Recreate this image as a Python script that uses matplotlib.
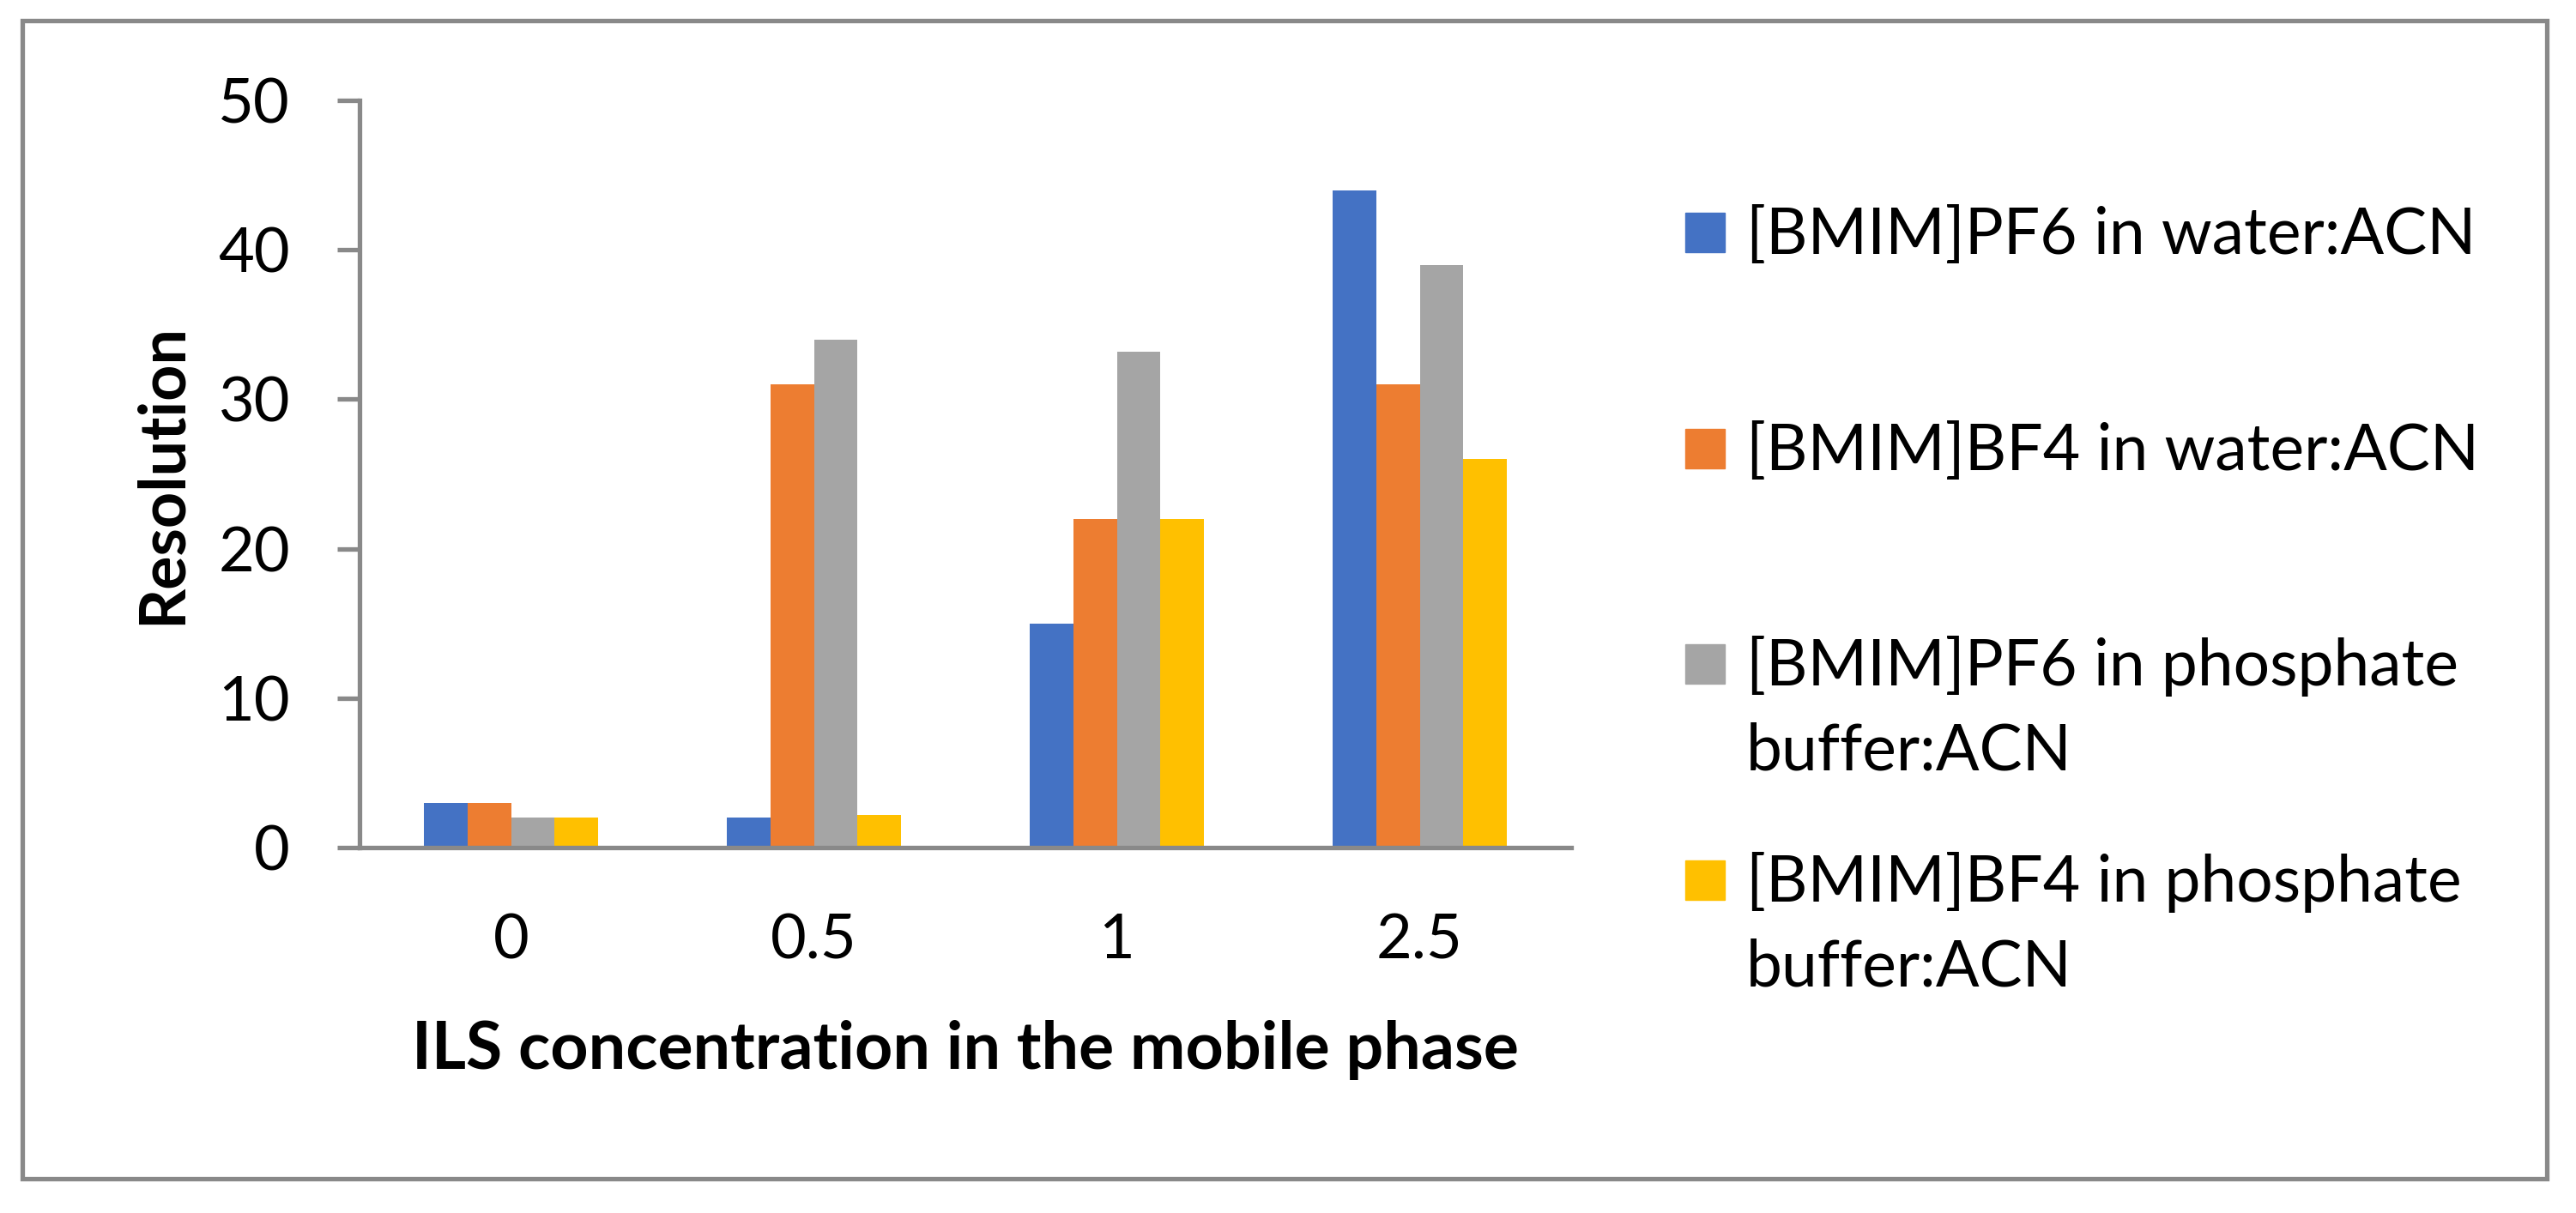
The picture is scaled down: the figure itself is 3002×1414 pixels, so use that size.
import numpy as np
import matplotlib
matplotlib.use("Agg")
import matplotlib.pyplot as plt
from matplotlib.patches import Rectangle

# values
concentrations = ["0", "0.5", "1", "2.5"]
series_labels = [
    "[BMIM]PF6 in water:ACN",
    "[BMIM]BF4 in water:ACN",
    "[BMIM]PF6 in phosphate\nbuffer:ACN",
    "[BMIM]BF4 in phosphate\nbuffer:ACN",
]
pf6_water = [3, 2, 15, 44]
bf4_water = [3, 31, 22, 31]
pf6_phosphate = [2, 34, 33.2, 39]
bf4_phosphate = [2, 2.2, 22, 26]
colors = ["#4472C4", "#ED7D31", "#A5A5A5", "#FFC000"]
grey = "#898989"

plt.rcParams["font.family"] = ["Lato", "DejaVu Sans"]

W, H = 3002, 1414
fig = plt.figure(figsize=(W / 100, H / 100), dpi=100)
ax = fig.add_axes([419 / W, 1 - 988 / H, (1831 - 419) / W, (988 - 117) / H])

x = np.arange(len(concentrations))
bw = 0.1436
all_series = [pf6_water, bf4_water, pf6_phosphate, bf4_phosphate]
for i, (vals, c, lab) in enumerate(zip(all_series, colors, series_labels)):
    ax.bar(x + (i - 1.5) * bw, vals, width=bw, color=c, label=lab, linewidth=0)

ax.set_xlim(-0.5, 3.5)
ax.set_ylim(0, 50)
ax.set_yticks(range(0, 51, 10))
ax.set_xticks(x, concentrations)

for side in ["top", "right"]:
    ax.spines[side].set_visible(False)
for side in ["left", "bottom"]:
    ax.spines[side].set_color(grey)
    ax.spines[side].set_linewidth(3.8)

ax.tick_params(axis="y", length=18.7, width=3.8, color=grey, pad=39.6, labelsize=52)
ax.tick_params(axis="x", length=0, pad=55, labelsize=52)

ax.set_ylabel("Resolution", fontsize=53, fontweight="bold")
ax.yaxis.set_label_coords((224 - 419) / 1412, 0.5)
ax.set_xlabel("ILS concentration in the mobile phase", fontsize=55.5, fontweight="bold")
ax.xaxis.label.set_va("baseline")
ax.xaxis.set_label_coords(0.5, -(1246 - 988) / 871)

# legend drawn by hand so the key sits on the first text line
for i, (lab, c) in enumerate(zip(series_labels, colors)):
    yc = 271 + 251.7 * i
    fig.patches.append(Rectangle((1964 / W, 1 - (yc + 23) / H), 46 / W, 46 / H,
                                 transform=fig.transFigure, color=c))
    for j, line in enumerate(lab.split("\n")):
        base = yc + 25 + 98 * j
        fig.text(2035 / W, 1 - base / H, line, fontsize=54, va="baseline")

# outer chart border
fig.patches.append(Rectangle((26 / W, 1 - 1374 / H), (2968 - 26) / W, (1374 - 24) / H,
                             fill=False, edgecolor=grey, linewidth=3.8,
                             transform=fig.transFigure))

fig.savefig("out.png", dpi=100)
